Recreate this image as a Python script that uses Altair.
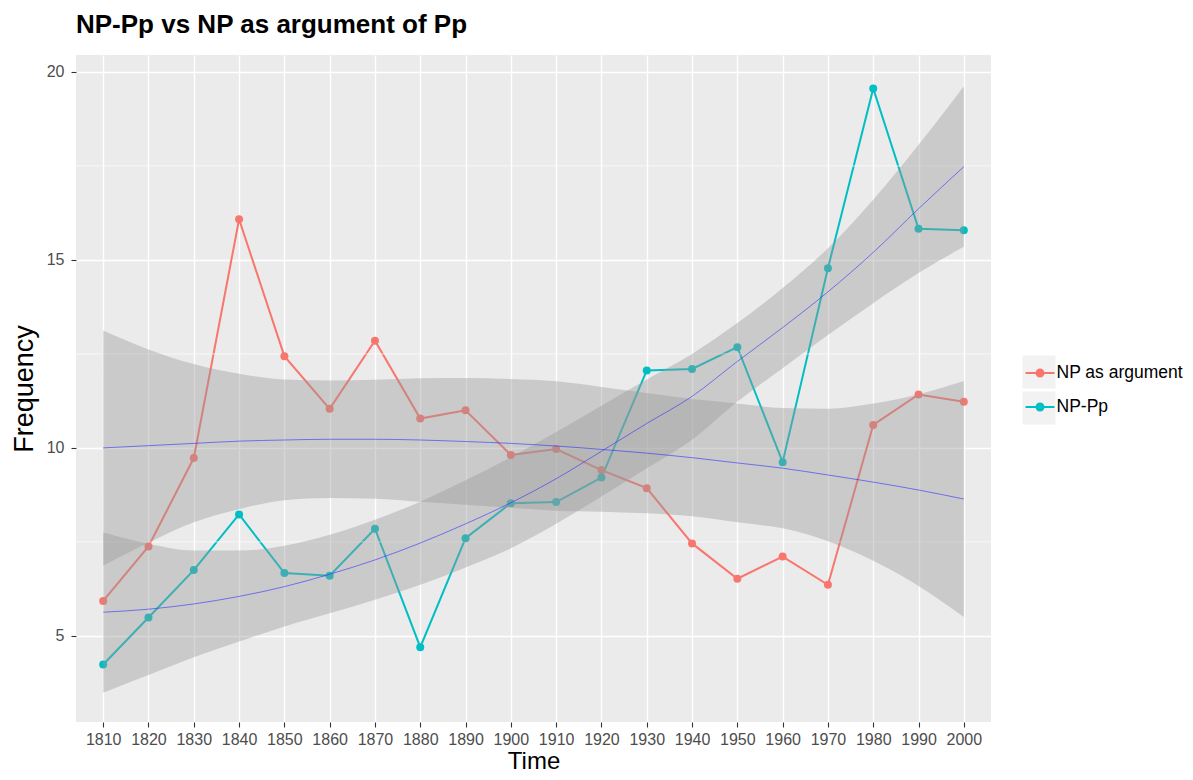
import altair as alt
import pandas as pd

decades = [1810, 1820, 1830, 1840, 1850, 1860, 1870, 1880, 1890, 1900,
           1910, 1920, 1930, 1940, 1950, 1960, 1970, 1980, 1990, 2000]
series_names = ["NP as argument", "NP-Pp"]
series_colors = ["#F8766D", "#00BFC4"]

np_arg = [5.93, 7.38, 9.73, 16.08, 12.44, 11.04, 12.85, 10.78, 11.00, 9.81,
          9.97, 9.41, 8.93, 7.46, 6.52, 7.11, 6.36, 10.61, 11.42, 11.23]
np_pp = [4.24, 5.49, 6.75, 8.23, 6.67, 6.60, 7.85, 4.70, 7.60, 8.53,
         8.56, 9.21, 12.06, 12.10, 12.68, 9.62, 14.78, 19.56, 15.83, 15.79]

# loess smoother: fit, lower and upper band
arg_fit = [10.00, 10.06, 10.12, 10.18, 10.21, 10.23, 10.23, 10.21, 10.17, 10.12,
           10.05, 9.96, 9.86, 9.74, 9.60, 9.46, 9.28, 9.09, 8.88, 8.64]
arg_hi = [13.12, 12.62, 12.23, 11.97, 11.82, 11.79, 11.81, 11.85, 11.86, 11.83,
          11.77, 11.62, 11.46, 11.30, 11.18, 11.06, 11.04, 11.18, 11.43, 11.78]
arg_lo = [6.87, 7.48, 8.02, 8.37, 8.61, 8.67, 8.65, 8.57, 8.49, 8.41,
          8.33, 8.30, 8.26, 8.18, 8.02, 7.86, 7.52, 7.00, 6.33, 5.50]

pp_fit = [5.63, 5.71, 5.85, 6.05, 6.31, 6.64, 7.02, 7.47, 7.98, 8.54,
          9.18, 9.91, 10.65, 11.37, 12.30, 13.20, 14.15, 15.20, 16.36, 17.48]
pp_lo = [3.49, 3.96, 4.43, 4.85, 5.25, 5.60, 5.96, 6.36, 6.82, 7.33,
         7.98, 8.71, 9.46, 10.22, 11.23, 12.12, 13.00, 13.85, 14.65, 15.35]
pp_hi = [7.75, 7.45, 7.27, 7.27, 7.40, 7.69, 8.09, 8.57, 9.14, 9.75,
         10.42, 11.12, 11.82, 12.50, 13.32, 14.25, 15.31, 16.60, 18.06, 19.62]

y_major = [5, 10, 15, 20]
y_minor = [7.5, 12.5, 17.5]
key_names = ["k1", "k2"]

n = len(decades)
obs = pd.DataFrame({
    "Time": decades * 2,
    "Series": [series_names[0]] * n + [series_names[1]] * n,
    "Frequency": np_arg + np_pp,
    "Key": [key_names[0]] * n + [key_names[1]] * n,
})
smooth = pd.DataFrame({
    "Time": decades * 2,
    "Series": [series_names[0]] * n + [series_names[1]] * n,
    "Frequency": arg_fit + pp_fit,
    "lo": arg_lo + pp_lo,
    "hi": arg_hi + pp_hi,
})
minor = pd.DataFrame({"Frequency": y_minor})

FONT = "Liberation Sans"

xscale = alt.Scale(domain=[1804, 2006], nice=False, zero=False)
yscale = alt.Scale(domain=[2.71, 20.45], nice=False, zero=False)

x_enc = alt.X("Time:Q", scale=xscale, title="Time",
              axis=alt.Axis(values=decades, format="d", grid=True, gridColor="white",
                            gridWidth=1.4, domain=False, tickColor="#333333", tickSize=5,
                            tickWidth=1.1, labelFont=FONT, labelFontSize=16,
                            labelColor="#4D4D4D", labelPadding=4, titleFont=FONT,
                            titleFontSize=24, titleFontWeight="normal", titleColor="black",
                            titlePadding=2))
y_enc = alt.Y("Frequency:Q", scale=yscale, title="Frequency",
              axis=alt.Axis(values=y_major, grid=True, gridColor="white", gridWidth=1.4,
                            domain=False, tickColor="#333333", tickSize=5, tickWidth=1.1,
                            labelFont=FONT, labelFontSize=16, labelColor="#4D4D4D",
                            labelPadding=7, titleFont=FONT, titleFontSize=27,
                            titleFontWeight="normal", titleColor="black", titlePadding=8))

sym_path = "M-1,0L1,0M-0.24,0A0.24,0.24,0,1,0,0.24,0A0.24,0.24,0,1,0,-0.24,0Z"
color_legend = alt.Legend(
    title=None, orient="none", legendX=948.5, legendY=302.5, padding=0,
    symbolType=sym_path, symbolSize=841, symbolStrokeWidth=2, symbolOpacity=1,
    labelFont=FONT, labelFontSize=17.5, labelColor="black", labelOffset=1,
    rowPadding=10, zindex=2,
)
color_enc = alt.Color("Series:N", scale=alt.Scale(domain=series_names, range=series_colors),
                      legend=color_legend)

minor_grid = alt.Chart(minor).mark_rule(color="white", strokeWidth=0.7).encode(
    y=alt.Y("Frequency:Q", scale=yscale))

key_bg = alt.Chart(obs).mark_point(shape="square", filled=True, opacity=0, size=1).encode(
    x=alt.X("Time:Q", scale=xscale),
    y=alt.Y("Frequency:Q", scale=yscale),
    fill=alt.Fill("Key:N", scale=alt.Scale(domain=key_names, range=["#F2F2F2", "#F2F2F2"]),
                  legend=alt.Legend(title=None, orient="none", legendX=946.5, legendY=300.5,
                                    padding=0, symbolType="square", symbolSize=1089,
                                    symbolStrokeWidth=0, symbolOpacity=1, labelExpr="''",
                                    labelFontSize=18, rowPadding=3, zindex=1)),
)

lines = alt.Chart(obs).mark_line(strokeWidth=2).encode(x=x_enc, y=y_enc, color=color_enc)
points = alt.Chart(obs).mark_point(filled=True, size=64, opacity=1).encode(
    x=alt.X("Time:Q", scale=xscale), y=alt.Y("Frequency:Q", scale=yscale), color=color_enc)

ribbons = alt.Chart(smooth).mark_area(color="#999999", opacity=0.4, interpolate="monotone").encode(
    x=alt.X("Time:Q", scale=xscale),
    y=alt.Y("lo:Q", scale=yscale),
    y2="hi:Q",
    detail="Series:N",
)
fits = alt.Chart(smooth).mark_line(color="#3030FF", strokeWidth=0.7, opacity=0.85,
                                   interpolate="monotone").encode(
    x=alt.X("Time:Q", scale=xscale),
    y=alt.Y("Frequency:Q", scale=yscale),
    detail="Series:N",
)

chart = alt.layer(lines, minor_grid, key_bg, points, ribbons, fits).properties(
    width=915, height=667,
    title=alt.Title("NP-Pp vs NP as argument of Pp", anchor="start", frame="group",
                    font=FONT, fontSize=26, fontWeight="bold", color="black",
                    baseline="alphabetic", offset=-4),
    padding={"left": 68, "top": 47, "right": 194, "bottom": 50},
    autosize=alt.AutoSizeParams(type="none"),
    background="white",
).configure_view(fill="#EBEBEB", stroke=None)

chart.save("out.html", embed_options={"renderer": "svg", "actions": False})
